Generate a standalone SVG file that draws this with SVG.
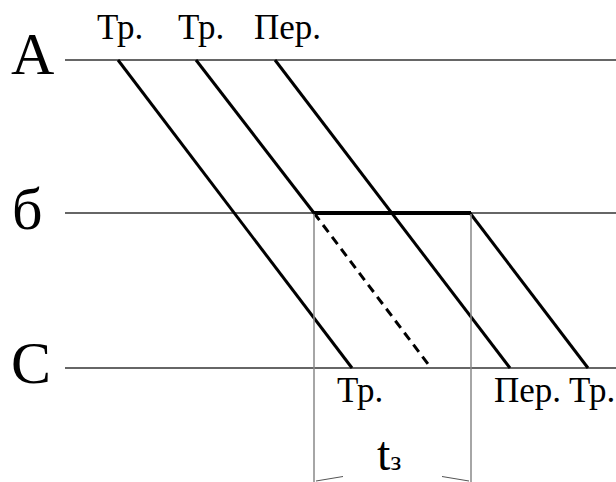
<svg xmlns="http://www.w3.org/2000/svg" width="616" height="482" viewBox="0 0 616 482">
<style>
.lbl{font-family:"Liberation Serif","Times New Roman",serif;fill:#000}
.big{font-size:60px}
.sm{font-size:35px}
.axis{stroke:#333;stroke-width:1.6;fill:none}
.diag{stroke:#000;stroke-width:3;fill:none}
.dash{stroke:#000;stroke-width:3;stroke-dasharray:9,6;fill:none}
.dim{stroke:#888;stroke-width:1.5;fill:none}
</style>
<rect width="616" height="482" fill="#fff"/>
<g id="axes">
<line class="axis" x1="65" y1="60" x2="616" y2="60"/>
<line class="axis" x1="65" y1="213" x2="616" y2="213" stroke="#000"/>
<line class="axis" x1="65" y1="368" x2="616" y2="368"/>
<text class="lbl big" x="11" y="74">А</text>
<text class="lbl big" x="12" y="229">б</text>
<text class="lbl big" x="11" y="383">С</text>
</g>
<g id="connectors">
<line class="diag" x1="118" y1="60" x2="352" y2="368"/>
<line class="diag" x1="196" y1="60" x2="314" y2="213"/>
<line class="dash" x1="314" y1="213" x2="431" y2="368"/>
<line class="diag" x1="275" y1="60" x2="510" y2="368"/>
<line class="diag" x1="470" y1="213" x2="588" y2="368"/>
<line x1="314" y1="213" x2="471" y2="213" stroke="#000" stroke-width="4"/>
</g>
<g id="dimension">
<line class="dim" x1="314" y1="214" x2="314" y2="482"/>
<line class="dim" x1="471" y1="214" x2="471" y2="482"/>
<line x1="316" y1="481" x2="343" y2="476.5" stroke="#555" stroke-width="1"/>
<line x1="442" y1="476.5" x2="469" y2="481" stroke="#555" stroke-width="1"/>
<text class="lbl" x="377" y="470" font-size="48">t<tspan font-size="28">з</tspan></text>
</g>
<g id="labels">
<text class="lbl sm" x="97" y="39">Тр.</text>
<text class="lbl sm" x="178" y="39">Тр.</text>
<text class="lbl sm" x="254" y="39">Пер.</text>
<text class="lbl sm" x="337" y="402">Тр.</text>
<text class="lbl sm" x="494" y="402">Пер.</text>
<text class="lbl sm" x="569" y="402">Тр.</text>
</g>
</svg>
